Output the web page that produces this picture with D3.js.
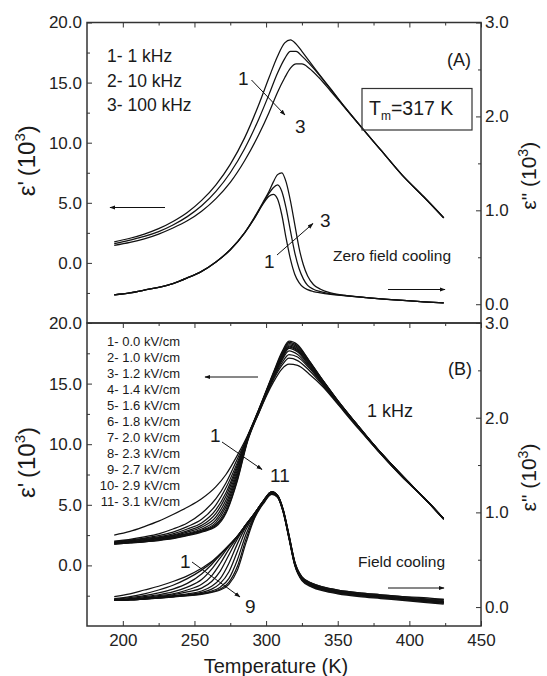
<!DOCTYPE html>
<html lang="en">
<head>
<meta charset="utf-8">
<title>Dielectric permittivity vs temperature</title>
<script src="https://d3js.org/d3.v7.min.js"></script>
<style>
  body { margin: 0; background: #fff; }
  svg { display: block; font-family: "Liberation Sans", Arial, sans-serif; }
  .curve { fill: none; stroke: #111; stroke-width: 1.25; }
  .note { fill: #1a1a1a; }
</style>
</head>
<body>
<div id="chart"></div>
<script>
// ---- panel A: zero field cooling, three frequencies ----
const freqLabels = ["1- 1 kHz", "2- 10 kHz", "3- 100 kHz"];

const tempsA1 = [194, 205, 215, 225, 235, 245, 255, 265, 275, 285, 295, 302, 308, 313, 317, 321, 325, 330, 337, 345, 355, 365, 380, 395, 410, 424];
const epsRealA = [
  [1.75, 2.05, 2.4, 2.85, 3.45, 4.2, 5.2, 6.5, 8.2, 10.4, 13.2, 15.4, 17.2, 18.3, 18.55, 18.2, 17.6, 16.8, 15.7, 14.5, 12.95, 11.5, 9.4, 7.3, 5.5, 3.75],
  [1.6, 1.9, 2.2, 2.6, 3.15, 3.85, 4.75, 5.95, 7.5, 9.5, 12.0, 14.0, 15.8, 17.0, 17.6, 17.6, 17.2, 16.6, 15.65, 14.45, 12.95, 11.5, 9.4, 7.3, 5.5, 3.75],
  [1.45, 1.7, 2.0, 2.4, 2.9, 3.5, 4.3, 5.35, 6.7, 8.5, 10.7, 12.5, 14.2, 15.4, 16.2, 16.55, 16.55, 16.2, 15.4, 14.3, 12.9, 11.5, 9.4, 7.3, 5.5, 3.75]
];

const tempsA2 = [194, 205, 215, 225, 235, 245, 255, 265, 275, 285, 292, 298, 302, 305, 308, 311, 314, 317, 320, 323, 326, 329, 333, 338, 345, 355, 370, 390, 410, 424];
const epsImagA = [
  [0.10, 0.12, 0.15, 0.18, 0.22, 0.28, 0.35, 0.45, 0.58, 0.76, 0.92, 1.07, 1.15, 1.17, 1.12, 0.95, 0.70, 0.48, 0.32, 0.23, 0.18, 0.155, 0.135, 0.12, 0.105, 0.09, 0.07, 0.045, 0.025, 0.015],
  [0.10, 0.12, 0.15, 0.18, 0.22, 0.28, 0.35, 0.45, 0.58, 0.76, 0.92, 1.08, 1.18, 1.24, 1.27, 1.20, 1.02, 0.78, 0.55, 0.38, 0.27, 0.20, 0.16, 0.135, 0.11, 0.093, 0.07, 0.045, 0.025, 0.015],
  [0.10, 0.12, 0.15, 0.18, 0.22, 0.28, 0.35, 0.45, 0.58, 0.76, 0.93, 1.09, 1.20, 1.30, 1.38, 1.40, 1.30, 1.10, 0.85, 0.60, 0.42, 0.30, 0.21, 0.16, 0.12, 0.095, 0.07, 0.045, 0.025, 0.015]
];

// ---- panel B: field cooling at 1 kHz, eleven fields ----
const fieldLabels = ["1- 0.0 kV/cm", "2- 1.0 kV/cm", "3- 1.2 kV/cm", "4- 1.4 kV/cm", "5- 1.6 kV/cm", "6- 1.8 kV/cm",
  "7- 2.0 kV/cm", "8- 2.3 kV/cm", "9- 2.7 kV/cm", "10- 2.9 kV/cm", "11- 3.1 kV/cm"];

const tempsB1 = [194, 205, 215, 225, 235, 245, 255, 265, 272, 280, 287, 295, 305, 311, 316, 322, 330, 340, 350, 365, 380, 395, 410, 424];
const epsRealB = [
  [2.5, 2.8, 3.2, 3.65, 4.2, 4.8, 5.5, 6.5, 7.5, 9.1, 10.7, 12.9, 15.9, 17.6, 18.5, 18.2, 16.9, 15.2, 13.6, 11.4, 9.3, 7.4, 5.6, 3.85],
  [2.0, 2.15, 2.35, 2.6, 3.0, 3.5, 4.3, 5.5, 6.8, 8.8, 10.6, 12.9, 15.8, 17.5, 18.4, 18.1, 16.9, 15.2, 13.6, 11.4, 9.3, 7.4, 5.6, 3.85],
  [1.95, 2.1, 2.25, 2.45, 2.75, 3.2, 3.8, 5.0, 6.4, 8.5, 10.6, 12.8, 15.8, 17.4, 18.3, 18.0, 16.8, 15.2, 13.6, 11.4, 9.3, 7.4, 5.6, 3.85],
  [1.9, 2.05, 2.2, 2.35, 2.6, 3.0, 3.5, 4.6, 6.0, 8.3, 10.6, 12.8, 15.7, 17.3, 18.2, 17.9, 16.8, 15.1, 13.6, 11.4, 9.3, 7.4, 5.6, 3.85],
  [1.9, 2.0, 2.15, 2.3, 2.5, 2.85, 3.3, 4.3, 5.7, 8.1, 10.5, 12.8, 15.7, 17.2, 18.1, 17.8, 16.7, 15.1, 13.5, 11.4, 9.3, 7.4, 5.6, 3.85],
  [1.85, 1.95, 2.1, 2.25, 2.45, 2.75, 3.15, 4.0, 5.4, 7.9, 10.5, 12.8, 15.6, 17.1, 18.0, 17.7, 16.6, 15.0, 13.5, 11.3, 9.3, 7.4, 5.6, 3.85],
  [1.85, 1.95, 2.05, 2.2, 2.4, 2.65, 3.0, 3.75, 5.1, 7.7, 10.4, 12.7, 15.6, 17.0, 17.9, 17.6, 16.5, 15.0, 13.5, 11.3, 9.3, 7.4, 5.6, 3.85],
  [1.8, 1.9, 2.0, 2.15, 2.35, 2.6, 2.9, 3.55, 4.85, 7.5, 10.4, 12.7, 15.5, 16.9, 17.7, 17.4, 16.4, 14.9, 13.4, 11.3, 9.3, 7.4, 5.6, 3.85],
  [1.8, 1.9, 2.0, 2.1, 2.3, 2.55, 2.85, 3.4, 4.6, 7.3, 10.3, 12.7, 15.4, 16.7, 17.4, 17.2, 16.3, 14.9, 13.4, 11.3, 9.2, 7.3, 5.6, 3.85],
  [1.75, 1.85, 1.95, 2.1, 2.25, 2.5, 2.8, 3.3, 4.4, 7.1, 10.3, 12.6, 15.3, 16.5, 17.1, 16.9, 16.1, 14.8, 13.4, 11.3, 9.2, 7.3, 5.6, 3.8],
  [1.75, 1.85, 1.95, 2.05, 2.2, 2.45, 2.75, 3.2, 4.3, 7.0, 10.2, 12.6, 15.1, 16.2, 16.6, 16.5, 15.8, 14.7, 13.3, 11.2, 9.2, 7.3, 5.6, 3.8]
];

const tempsB2 = [194, 205, 215, 225, 235, 245, 255, 262, 268, 274, 280, 286, 292, 298, 304, 308, 312, 316, 320, 325, 332, 340, 350, 365, 380, 395, 410, 424];
const epsImagB = [
  [0.11, 0.14, 0.18, 0.22, 0.27, 0.33, 0.41, 0.48, 0.56, 0.65, 0.75, 0.87, 0.99, 1.12, 1.22, 1.18, 1.02, 0.74, 0.46, 0.30, 0.23, 0.19, 0.16, 0.13, 0.11, 0.09, 0.07, 0.05],
  [0.09, 0.11, 0.14, 0.18, 0.23, 0.30, 0.39, 0.47, 0.56, 0.65, 0.75, 0.87, 0.99, 1.12, 1.22, 1.18, 1.02, 0.75, 0.47, 0.31, 0.24, 0.20, 0.17, 0.14, 0.12, 0.10, 0.08, 0.07],
  [0.08, 0.10, 0.12, 0.15, 0.19, 0.25, 0.35, 0.45, 0.55, 0.65, 0.75, 0.87, 0.99, 1.12, 1.22, 1.17, 1.01, 0.73, 0.45, 0.29, 0.22, 0.18, 0.15, 0.12, 0.10, 0.08, 0.06, 0.04],
  [0.08, 0.09, 0.11, 0.13, 0.16, 0.21, 0.29, 0.40, 0.52, 0.64, 0.75, 0.87, 0.99, 1.12, 1.21, 1.18, 1.03, 0.76, 0.48, 0.32, 0.25, 0.21, 0.18, 0.15, 0.13, 0.11, 0.09, 0.08],
  [0.07, 0.085, 0.10, 0.12, 0.14, 0.18, 0.24, 0.33, 0.46, 0.61, 0.74, 0.87, 0.99, 1.11, 1.21, 1.17, 1.01, 0.74, 0.46, 0.30, 0.23, 0.19, 0.16, 0.13, 0.11, 0.09, 0.07, 0.06],
  [0.07, 0.08, 0.095, 0.11, 0.13, 0.16, 0.20, 0.27, 0.38, 0.55, 0.72, 0.86, 0.98, 1.11, 1.21, 1.17, 1.00, 0.72, 0.44, 0.28, 0.21, 0.17, 0.14, 0.11, 0.09, 0.07, 0.05, 0.03],
  [0.07, 0.08, 0.09, 0.105, 0.12, 0.14, 0.17, 0.22, 0.30, 0.46, 0.67, 0.85, 0.98, 1.11, 1.21, 1.18, 1.02, 0.75, 0.47, 0.31, 0.24, 0.20, 0.17, 0.14, 0.12, 0.10, 0.08, 0.06],
  [0.07, 0.08, 0.09, 0.10, 0.115, 0.13, 0.155, 0.19, 0.25, 0.37, 0.59, 0.82, 0.97, 1.10, 1.20, 1.17, 1.01, 0.74, 0.46, 0.30, 0.23, 0.19, 0.16, 0.13, 0.11, 0.09, 0.07, 0.05],
  [0.07, 0.075, 0.085, 0.10, 0.11, 0.125, 0.145, 0.17, 0.21, 0.30, 0.50, 0.77, 0.96, 1.10, 1.20, 1.16, 1.00, 0.73, 0.45, 0.29, 0.22, 0.18, 0.15, 0.12, 0.10, 0.08, 0.06, 0.04],
  [0.07, 0.075, 0.085, 0.095, 0.11, 0.12, 0.14, 0.16, 0.19, 0.26, 0.43, 0.72, 0.95, 1.10, 1.20, 1.17, 1.02, 0.76, 0.48, 0.32, 0.25, 0.21, 0.18, 0.15, 0.13, 0.11, 0.10, 0.08],
  [0.07, 0.075, 0.085, 0.095, 0.105, 0.12, 0.135, 0.155, 0.18, 0.24, 0.39, 0.68, 0.94, 1.09, 1.19, 1.16, 1.00, 0.73, 0.45, 0.29, 0.22, 0.18, 0.15, 0.12, 0.10, 0.08, 0.06, 0.05]
];

// axis ticks
const xTicks = [200, 250, 300, 350, 400, 450];
const xMinor = [225, 275, 325, 375, 425];
const leftTicks = [0, 5, 10, 15, 20];
const leftMinor = [-2.5, 2.5, 7.5, 12.5, 17.5];
const rightTicks = [0, 1, 2, 3];
const rightMinor = [0.5, 1.5, 2.5];

const w = 547, h = 676;
const left = 87, right = 481;
const font = '"Liberation Sans", Arial, sans-serif';

const svg = d3.select("#chart").append("svg")
  .attr("width", w).attr("height", h);

svg.append("defs").append("marker")
  .attr("id", "head")
  .attr("viewBox", "0 0 10 10")
  .attr("refX", 9).attr("refY", 5)
  .attr("markerWidth", 6).attr("markerHeight", 6)
  .attr("orient", "auto")
  .append("path").attr("d", "M0,1.5 L10,5 L0,8.5 Z").attr("fill", "#111");

const x = d3.scaleLinear().domain([175, 450]).range([left, right]);

const panels = [
  { top: 22.5, bottom: 323, t1: tempsA1, re: epsRealA, t2: tempsA2, im: epsImagA, showX: false },
  { top: 323, bottom: 626, t1: tempsB1, re: epsRealB, t2: tempsB2, im: epsImagB, showX: true }
];

panels.forEach((p, i) => {
  p.yL = d3.scaleLinear().domain([-5, 20]).range([p.bottom, p.top]);
  p.yR = d3.scaleLinear().domain([-0.2, 3.0]).range([p.bottom, p.top]);

  const g = svg.append("g");

  const lineRe = d3.line().curve(d3.curveMonotoneX)
    .x(d => x(d[0])).y(d => p.yL(d[1]));
  const lineIm = d3.line().curve(d3.curveMonotoneX)
    .x(d => x(d[0])).y(d => p.yR(d[1]));

  g.selectAll(".re").data(p.re).enter().append("path")
    .attr("class", "curve")
    .attr("d", vals => lineRe(vals.map((v, k) => [p.t1[k], v])));
  g.selectAll(".im").data(p.im).enter().append("path")
    .attr("class", "curve")
    .attr("d", vals => lineIm(vals.map((v, k) => [p.t2[k], v])));

  // axes, ticks pointing inward
  const styleAxis = sel => {
    sel.attr("color", "#333").attr("font-family", font).attr("font-size", 17);
    sel.select(".domain").remove();
    sel.selectAll("text").attr("fill", "#222");
  };

  g.append("g").attr("transform", `translate(${left},0)`)
    .call(d3.axisLeft(p.yL).tickValues(leftTicks).tickFormat(d3.format(".1f")).tickSizeInner(-5).tickSizeOuter(0).tickPadding(5))
    .call(styleAxis);
  g.append("g").attr("transform", `translate(${left},0)`)
    .call(d3.axisLeft(p.yL).tickValues(leftMinor).tickFormat("").tickSizeInner(-3).tickSizeOuter(0))
    .call(styleAxis);
  g.append("g").attr("transform", `translate(${right},0)`)
    .call(d3.axisRight(p.yR).tickValues(rightTicks).tickFormat(d3.format(".1f")).tickSizeInner(-5).tickSizeOuter(0).tickPadding(4))
    .call(styleAxis);
  g.append("g").attr("transform", `translate(${right},0)`)
    .call(d3.axisRight(p.yR).tickValues(rightMinor).tickFormat("").tickSizeInner(-3).tickSizeOuter(0))
    .call(styleAxis);

  g.append("g").attr("transform", `translate(0,${p.top})`)
    .call(d3.axisTop(x).tickValues(xTicks).tickFormat("").tickSizeInner(-5).tickSizeOuter(0))
    .call(styleAxis);
  g.append("g").attr("transform", `translate(0,${p.top})`)
    .call(d3.axisTop(x).tickValues(xMinor).tickFormat("").tickSizeInner(-3).tickSizeOuter(0))
    .call(styleAxis);

  if (p.showX) {
    g.append("g").attr("transform", `translate(0,${p.bottom})`)
      .call(d3.axisBottom(x).tickValues(xTicks).tickSizeInner(-5).tickSizeOuter(0).tickPadding(8))
      .call(styleAxis);
    g.append("g").attr("transform", `translate(0,${p.bottom})`)
      .call(d3.axisBottom(x).tickValues(xMinor).tickFormat("").tickSizeInner(-3).tickSizeOuter(0))
      .call(styleAxis);
  }

  g.append("rect")
    .attr("x", left).attr("y", p.top)
    .attr("width", right - left).attr("height", p.bottom - p.top)
    .attr("fill", "none").attr("stroke", "#333").attr("stroke-width", 1.5);

  // axis titles
  const tl = svg.append("text")
    .attr("transform", `translate(35,${(p.top + p.bottom) / 2 - 12}) rotate(-90)`)
    .attr("text-anchor", "middle").attr("font-size", 24).attr("class", "note");
  tl.append("tspan").text("ε'\u2009(10");
  tl.append("tspan").attr("dy", -10).attr("font-size", 15).text("3");
  tl.append("tspan").attr("dy", 10).text(")");

  const tr = svg.append("text")
    .attr("transform", `translate(536,${(p.top + p.bottom) / 2 + 3}) rotate(-90)`)
    .attr("text-anchor", "middle").attr("font-size", 21).attr("class", "note");
  tr.append("tspan").text("ε\" (10");
  tr.append("tspan").attr("dy", -8).attr("font-size", 14).text("3");
  tr.append("tspan").attr("dy", 8).text(")");
});

const arrow = (x1, y1, x2, y2) => svg.append("line")
  .attr("x1", x1).attr("y1", y1).attr("x2", x2).attr("y2", y2)
  .attr("stroke", "#111").attr("stroke-width", 1)
  .attr("marker-end", "url(#head)");

const note = (tx, ty, str, size, anchor) => svg.append("text")
  .attr("class", "note").attr("x", tx).attr("y", ty)
  .attr("font-size", size).attr("text-anchor", anchor || "start").text(str);

// panel A annotations
freqLabels.forEach((s, i) => note(107, 62 + i * 24.5, s, 17.5));
note(471, 66, "(A)", 18, "end");
svg.append("rect").attr("x", 362).attr("y", 88.5).attr("width", 110).attr("height", 41.5)
  .attr("fill", "none").attr("stroke", "#333").attr("stroke-width", 1.2);
const tm = note(369, 115, "T", 19.5);
tm.append("tspan").attr("dy", 5).attr("font-size", 12).text("m");
tm.append("tspan").attr("dy", -5).text("=317 K");
note(238, 85, "1", 19);
arrow(251.5, 80, 285, 115);
note(295, 133, "3", 19);
note(264, 268, "1", 19);
arrow(277, 255, 313, 223.5);
note(320, 227, "3", 19);
arrow(165, 207.5, 110, 207.5);
note(333, 261, "Zero field cooling", 15.5);
arrow(388, 289.5, 445, 289.5);

// panel B annotations
fieldLabels.forEach((s, i) => note(180, 346 + i * 16, s, 13, "end"));
arrow(258, 377, 205, 377);
note(472, 375, "(B)", 18, "end");
note(367, 417, "1 kHz", 18);
note(210, 442, "1", 19);
arrow(222, 442, 262, 469.5);
note(270, 482, "11", 19);
note(180, 568, "1", 19);
arrow(192, 562, 240, 597);
note(245, 613, "9", 19);
note(358, 567, "Field cooling", 15.5);
arrow(388, 588, 444, 588);

svg.append("text").attr("class", "note")
  .attr("x", (left + right) / 2 - 8).attr("y", 673)
  .attr("text-anchor", "middle").attr("font-size", 20)
  .text("Temperature (K)");
</script>
</body>
</html>
